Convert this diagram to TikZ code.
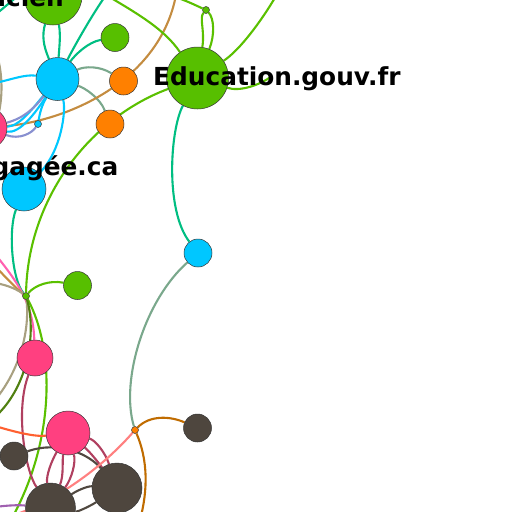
\documentclass[tikz,border=0pt]{standalone}
\usepackage{fontspec}
\setmainfont{DejaVu Sans}
\definecolor{ngreen}{RGB}{87,191,0}
\definecolor{nblue}{RGB}{0,199,255}
\definecolor{norange}{RGB}{255,128,0}
\definecolor{npink}{RGB}{255,64,128}
\definecolor{ndark}{RGB}{78,70,62}
\definecolor{nborder}{RGB}{55,55,55}
\definecolor{eteal}{RGB}{0,190,130}
\definecolor{egrg}{RGB}{122,168,140}
\definecolor{egreen}{RGB}{90,192,0}
\definecolor{ebrown}{RGB}{196,140,64}
\definecolor{eblue}{RGB}{0,200,255}
\definecolor{epurple}{RGB}{136,144,208}
\definecolor{epink}{RGB}{255,96,176}
\definecolor{ekhaki}{RGB}{168,160,128}
\definecolor{edkgreen}{RGB}{80,128,16}
\definecolor{edred}{RGB}{176,64,96}
\definecolor{eorred}{RGB}{255,96,48}
\definecolor{edgray}{RGB}{80,72,64}
\definecolor{esalmon}{RGB}{255,128,128}
\definecolor{ebrorange}{RGB}{192,108,0}
\definecolor{epurple2}{RGB}{160,96,176}
\pgfdeclarelayer{back}
\pgfdeclarelayer{bg}
\pgfsetlayers{back,bg,main}
\begin{document}
\begin{tikzpicture}[x=1pt,y=-1pt,
  nd/.style={circle, draw=nborder, line width=0.5pt, inner sep=0pt},
  ed/.style={line width=2.1pt},
  lbl/.style={inner sep=0pt, font=\fontsize{24.8}{25}\selectfont\bfseries}]
\useasboundingbox (0,0) rectangle (512,512);
\begin{pgfonlayer}{back}
\fill[white] (0,0) rectangle (512,512);
\end{pgfonlayer}
% nodes
\node[nd, fill=ngreen, minimum size=58pt] (G1) at (53,-4) {};
\node[nd, fill=nblue, minimum size=43pt] (B1) at (57.5,79) {};
\node[nd, fill=ngreen, minimum size=28pt] (G2) at (115,37.5) {};
\node[nd, fill=norange, minimum size=28pt] (O1) at (123.5,81) {};
\node[nd, fill=norange, minimum size=28pt] (O2) at (110,124) {};
\node[nd, fill=npink, minimum size=42pt] (P1) at (-14,128) {};
\node[nd, fill=nblue, minimum size=7pt] (dB) at (38,124) {};
\node[nd, fill=nblue, minimum size=44pt] (B2) at (24,189) {};
\node[nd, fill=ngreen, minimum size=62pt] (Edu) at (197.5,78) {};
\node[nd, fill=ngreen, minimum size=7pt] (dT) at (206,10) {};
\node[nd, fill=nblue, minimum size=28pt] (B3) at (198,253) {};
\node[nd, fill=ngreen, minimum size=28pt] (G3) at (77.5,285.5) {};
\node[nd, fill=ngreen, minimum size=7pt] (dL) at (26,296) {};
\node[nd, fill=npink, minimum size=36pt] (P2) at (35,358) {};
\node[nd, fill=npink, minimum size=44pt] (P3) at (68,433) {};
\node[nd, fill=ndark, minimum size=28pt] (D1) at (14,456) {};
\node[nd, fill=ndark, minimum size=50pt] (D2) at (50.5,508) {};
\node[nd, fill=ndark, minimum size=50pt] (D3) at (117,488) {};
\node[nd, fill=norange, minimum size=7pt] (dO) at (135,430) {};
\node[nd, fill=ndark, minimum size=28pt] (D4) at (197.5,428) {};
% free ends
\coordinate (cT1) at (106,-5);
\coordinate (cTop) at (176,-5);
\coordinate (cTop2) at (172,-4);
\coordinate (cTop3) at (106,-5);
\coordinate (cTR) at (276,-4);
\coordinate (cR) at (272,76);
\coordinate (cL1) at (-5,83);
\coordinate (cL2) at (-5,254);
\coordinate (cL3) at (-5,266);
\coordinate (cL4) at (-5,283);
\coordinate (cL5) at (-5,400);
\coordinate (cL6) at (-5,417);
\coordinate (cL7) at (-5,426);
\coordinate (cL8) at (-5,507);
\coordinate (cL9) at (-3,55);
\coordinate (cL10) at (-3,120);
\coordinate (cL11) at (-4,14);
\coordinate (cT0) at (20,-5);
\coordinate (cB1) at (140,520);
\coordinate (cB2) at (5,518);
\coordinate (cB3) at (12,518);
\begin{pgfonlayer}{bg}
% teal
\draw[ed, eteal] (B1) .. controls (43,45) and (42,35) .. (G1);
\draw[ed, eteal] (B1) .. controls (59,50) and (61,35) .. (G1);
\draw[ed, eteal] (B1) .. controls (75,45) and (92,15) .. (cT1);
\draw[ed, eteal] (B1) .. controls (75,55) and (88,42) .. (G2);
\draw[ed, eteal] (cL11) .. controls (4,8) and (12,0) .. (cT0);
\draw[ed, eteal] (Edu) .. controls (170,130) and (165,210) .. (B3);
\draw[ed, eteal] (B2) .. controls (8,230) and (12,280) .. (dL);
% grey-green
\draw[ed, egrg] (B1) .. controls (85,66) and (100,66) .. (O1);
\draw[ed, egrg] (B1) .. controls (85,88) and (100,98) .. (O2);
\draw[ed, egrg] (B3) .. controls (145,300) and (120,380) .. (dO);
% khaki left edge
\draw[ed, ekhaki] (cL9) .. controls (3,75) and (3,100) .. (cL10);
% brown
\draw[ed, ebrown] (P1) .. controls (70,120) and (160,80) .. (cTop);
% blue / purple
\draw[ed, eblue] (B1) .. controls (25,74) and (10,80) .. (cL1);
\draw[ed, eblue] (B1) .. controls (66,110) and (62,150) .. (B2);
\draw[ed, eblue] (P1) .. controls (20,126) and (33,108) .. (B1);
\draw[ed, eblue] (P1) .. controls (20,134) and (36,112) .. (B1);
\draw[ed, eblue] (dB) .. controls (40,112) and (42,105) .. (B1);
\draw[ed, epurple] (P1) .. controls (25,118) and (36,106) .. (B1);
\draw[ed, epurple] (P1) .. controls (20,140) and (32,133) .. (dB);
% green
\draw[ed, egreen] (Edu) .. controls (205,30) and (199,18) .. (dT);
\draw[ed, egreen] (Edu) .. controls (215,35) and (214,18) .. (dT);
\draw[ed, egreen] (dT) .. controls (195,5) and (185,0) .. (cTop2);
\draw[ed, egreen] (Edu) .. controls (240,50) and (262,20) .. (cTR);
\draw[ed, egreen] (Edu) .. controls (240,92) and (260,85) .. (cR);
\draw[ed, egreen] (cTop3) .. controls (140,15) and (165,30) .. (Edu);
\draw[ed, egreen] (Edu) .. controls (90,118) and (28,198) .. (dL);
\draw[ed, egreen] (dL) .. controls (35,285) and (50,280) .. (G3);
\draw[ed, egreen] (dL) .. controls (55,350) and (55,440) .. (cB3);
% other left edges
\draw[ed, epink] (cL2) .. controls (20,285) and (33,305) .. (P2);
\draw[ed, ebrown] (cL3) .. controls (8,280) and (18,290) .. (dL);
\draw[ed, ekhaki] (cL4) .. controls (8,285) and (18,290) .. (dL);
\draw[ed, ekhaki] (dL) .. controls (30,330) and (20,370) .. (cL5);
\draw[ed, edkgreen] (dL) .. controls (36,330) and (30,385) .. (cL6);
\draw[ed, edred] (P2) .. controls (15,410) and (25,470) .. (D2);
\draw[ed, eorred] (cL7) .. controls (15,432) and (35,437) .. (P3);
\draw[ed, epurple2] (cL8) .. controls (10,505) and (20,505) .. (D2);
% bottom cluster
\draw[ed, edred] (P3) .. controls (52,460) and (46,475) .. (D2);
\draw[ed, edred] (P3) .. controls (62,460) and (64,475) .. (D2);
\draw[ed, edred] (P3) .. controls (76,462) and (72,478) .. (D2);
\draw[ed, edred] (P3) .. controls (90,452) and (98,462) .. (D3);
\draw[ed, edred] (P3) .. controls (95,440) and (105,452) .. (D3);
\draw[ed, edgray] (D1) .. controls (60,440) and (90,455) .. (D3);
\draw[ed, edgray] (D2) .. controls (78,490) and (88,486) .. (D3);
\draw[ed, edgray] (D2) .. controls (78,512) and (92,505) .. (D3);
\draw[ed, esalmon] (dO) .. controls (100,470) and (50,505) .. (cB2);
\draw[ed, ebrorange] (dO) .. controls (150,415) and (170,416) .. (D4);
\draw[ed, ebrorange] (dO) .. controls (148,460) and (148,490) .. (cB1);
\end{pgfonlayer}
% labels
\node[lbl, anchor=base east] (tG1) at (64,6) {icien};
\node[lbl, anchor=base east] (tB2) at (118.5,175) {gagée.ca};
\node[lbl, anchor=base west] (tEdu) at (153,85) {Education.gouv.fr};
\end{tikzpicture}
\end{document}
